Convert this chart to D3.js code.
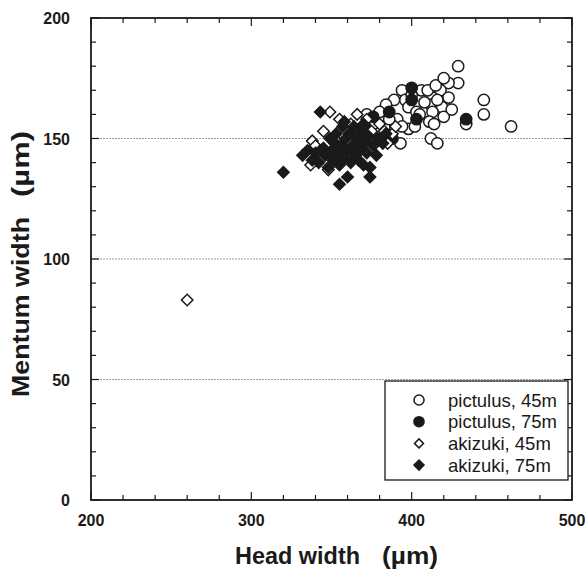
<!DOCTYPE html>
<html><head><meta charset="utf-8">
<script src="https://cdn.jsdelivr.net/npm/d3@7"></script>
<style>body{margin:0;background:#fff}svg{display:block}</style>
</head><body>
<svg id="c" width="588" height="571"></svg>
<script>
const xTicks = [200, 300, 400, 500];
const yTicks = [0, 50, 100, 150, 200];
const gridValues = [50, 100, 150];
const seriesNames = ["pictulus, 45m", "pictulus, 75m", "akizuki, 45m", "akizuki, 75m"];

const pictulus45 = [[429,180],[429,173],[423,173],[418,170],[423,167],[413,167],[406,170],[394,170],[396,166],[389,166],[384,164],[398,163],[412,164],[419,163],[413,161],[420,159],[411,157],[414,156],[434,156],[445,166],[445,160],[462,155],[412,150],[416,148],[398,154],[391,158],[394,155],[383,155],[378,152],[377,149],[393,148],[403,161],[408,165],[416,166],[400,168],[405,160],[425,162],[410,170],[402,155],[386,158],[372,160],[376,156],[380,161],[368,153],[370,150],[415,172],[420,175]];
const pictulus75 = [[400,171],[400,166],[403,158],[434,158],[386,161],[376,159],[388,150],[382,150],[366,148],[371,155]];
const akizuki45 = [[260,83],[337,139],[338,149],[340,147],[349,161],[345,153],[348,137],[352,150],[355,158],[358,146],[362,156],[365,152],[366,160],[368,146],[372,158],[375,153],[378,150],[380,156],[383,153],[385,148],[388,152],[390,155],[343,145],[360,143]];
const akizuki75 = [[320,136],[332,143],[335,145],[338,141],[340,144],[342,140],[343,161],[345,146],[346,143],[348,138],[349,150],[350,145],[351,141],[352,148],[353,152],[354,144],[355,131],[355,139],[356,147],[357,155],[358,142],[359,150],[360,134],[360,145],[361,152],[362,140],[363,147],[364,155],[365,143],[366,150],[367,141],[368,153],[369,146],[370,139],[371,149],[372,144],[373,151],[374,134],[374,138],[376,147],[378,143],[379,150],[382,148],[384,152],[370,156],[358,157]];

const svg = d3.select("#c");
const L = 91, R = 572, T = 18, B = 500;
const x = d3.scaleLinear().domain([200, 500]).range([L, R]);
const y = d3.scaleLinear().domain([0, 200]).range([B, T]);
const ink = "#1a1a1a";
const FONT = "Liberation Sans, Arial, sans-serif";

// grid
svg.append("g").selectAll("line").data(gridValues).join("line")
  .attr("x1", L).attr("x2", R).attr("y1", d => y(d)).attr("y2", d => y(d))
  .attr("stroke", "#999").attr("stroke-width", 1).attr("stroke-dasharray", "2,1");

// ticks (inward) on all four sides
const xMinor = d3.range(200, 501, 20);
const yMinor = d3.range(0, 201, 10);
const tk = svg.append("g").attr("stroke", ink).attr("stroke-width", 1.2);
xMinor.forEach(v => {
  const len = v % 100 === 0 ? 8 : 5;
  tk.append("line").attr("x1", x(v)).attr("x2", x(v)).attr("y1", B).attr("y2", B - len);
  tk.append("line").attr("x1", x(v)).attr("x2", x(v)).attr("y1", T).attr("y2", T + len);
});
yMinor.forEach(v => {
  const len = v % 50 === 0 ? 8 : 5;
  tk.append("line").attr("y1", y(v)).attr("y2", y(v)).attr("x1", L).attr("x2", L + len);
  tk.append("line").attr("y1", y(v)).attr("y2", y(v)).attr("x1", R).attr("x2", R - len);
});

// frame
svg.append("rect").attr("x", L).attr("y", T).attr("width", R - L).attr("height", B - T)
  .attr("fill", "none").attr("stroke", ink).attr("stroke-width", 1.8);

// tick labels
const lab = svg.append("g").attr("font-family", FONT)
  .attr("font-weight", "bold").attr("font-size", 16).attr("fill", ink);
lab.selectAll(".xl").data(xTicks).join("text")
  .attr("x", d => x(d)).attr("y", 526).attr("text-anchor", "middle").text(d => d);
lab.selectAll(".yl").data(yTicks).join("text")
  .attr("x", 70).attr("y", d => y(d) + 6).attr("text-anchor", "end").text(d => d);

// axis titles
const xt = svg.append("g").attr("font-family", FONT).attr("font-weight", "bold")
  .attr("font-size", 23).attr("fill", ink);
xt.append("text").attr("x", 235).attr("y", 564).attr("textLength", 125)
  .attr("lengthAdjust", "spacingAndGlyphs").text("Head width");
xt.append("text").attr("x", 382).attr("y", 564).attr("textLength", 56)
  .attr("lengthAdjust", "spacingAndGlyphs").text("(\u00b5m)");

const yt = svg.append("g").attr("font-family", FONT).attr("font-weight", "bold")
  .attr("font-size", 24).attr("fill", ink).attr("transform", "translate(29,0) rotate(-90)");
yt.append("text").attr("x", -397).attr("y", 0).attr("textLength", 180)
  .attr("lengthAdjust", "spacingAndGlyphs").text("Mentum width");
yt.append("text").attr("x", -197).attr("y", 0).attr("textLength", 66)
  .attr("lengthAdjust", "spacingAndGlyphs").text("(\u00b5m)");

// markers
const circ = d3.symbol().type(d3.symbolCircle).size(100);
const diam = d3.symbol().type(d3.symbolSquare).size(66);
function drawPts(data, sym, filled, rot) {
  svg.append("g").selectAll("path").data(data).join("path")
    .attr("d", sym)
    .attr("transform", d => `translate(${x(d[0])},${y(d[1])})${rot ? " rotate(45)" : ""}`)
    .attr("fill", filled ? ink : "#fff").attr("stroke", ink).attr("stroke-width", 1.5);
}
drawPts(pictulus45, circ, false, false);
drawPts(pictulus75, circ, true, false);
drawPts(akizuki45, diam, false, true);
drawPts(akizuki75, diam, true, true);

// legend
const lg = svg.append("g");
lg.append("rect").attr("x", 385).attr("y", 381).attr("width", 183).attr("height", 99)
  .attr("fill", "#fff").attr("stroke", ink).attr("stroke-width", 1.3);
const legSyms = [[d3.symbol().type(d3.symbolCircle).size(80), false, false],
                 [d3.symbol().type(d3.symbolCircle).size(80), true, false],
                 [d3.symbol().type(d3.symbolSquare).size(40), false, true],
                 [d3.symbol().type(d3.symbolSquare).size(50), true, true]];
seriesNames.forEach((n, i) => {
  const yy = 400 + i * 21.7;
  lg.append("path").attr("d", legSyms[i][0]())
    .attr("transform", `translate(419,${yy})${legSyms[i][2] ? " rotate(45)" : ""}`)
    .attr("fill", legSyms[i][1] ? ink : "#fff").attr("stroke", ink).attr("stroke-width", 1.5);
  lg.append("text").attr("x", 448).attr("y", yy + 6.5).attr("font-family", FONT)
    .attr("font-size", 18.5).attr("fill", ink).text(n);
});
</script>
</body></html>
